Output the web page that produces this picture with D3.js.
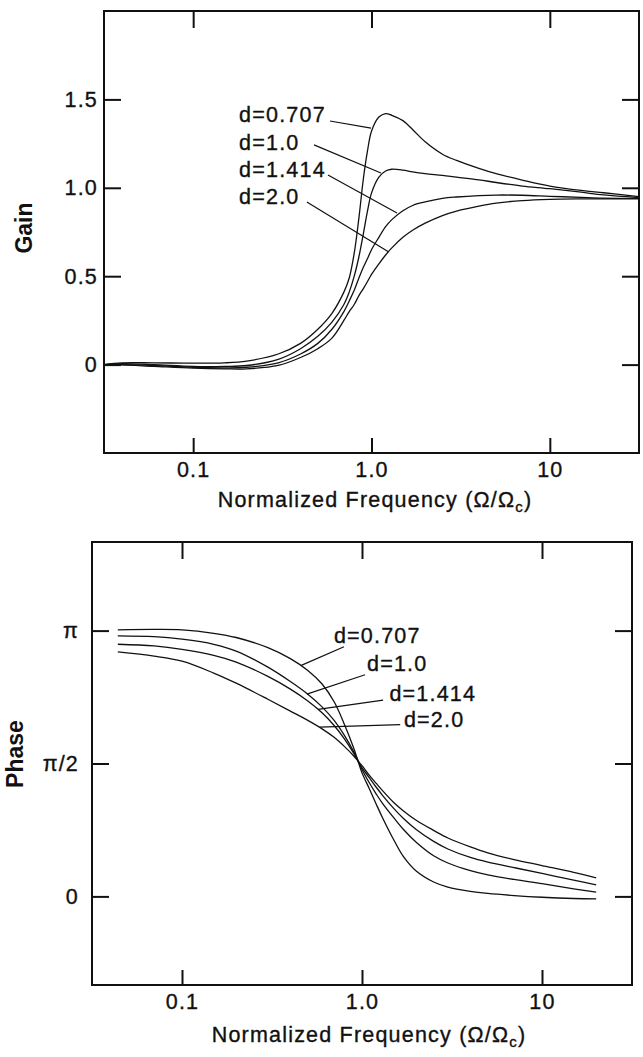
<!DOCTYPE html>
<html><head><meta charset="utf-8">
<script src="https://cdn.jsdelivr.net/npm/d3@7"></script>
<style>
body{margin:0;background:#fff}
text{font-family:"Liberation Sans",Arial,Helvetica,sans-serif;fill:#111}
</style>
</head><body>
<svg id="c" width="643" height="1057" xmlns="http://www.w3.org/2000/svg"></svg>
<script>
// ---------- data ----------
const seriesNames = ["d=0.707", "d=1.0", "d=1.414", "d=2.0"];

const xTickValues = [0.1, 1, 10];
const xTickLabels = ["0.1", "1.0", "10"];

const gainTickValues = [0, 0.5, 1.0, 1.5];
const gainTickLabels = ["0", "0.5", "1.0", "1.5"];

const phaseTickValues = [0, Math.PI / 2, Math.PI];
const phaseTickLabels = ["0", "π/2", "π"];

// Gain panel
const gainFreq = [0.0316, 0.04, 0.06, 0.1, 0.15, 0.2, 0.3, 0.4, 0.5, 0.6, 0.7, 0.75, 0.8, 0.85, 0.9, 0.95, 1.0, 1.1, 1.2, 1.3, 1.5, 1.7, 2, 2.5, 3, 4, 5, 7, 10, 15, 20, 31.6];
const gainD0707 = [0.0, 0.01, 0.01, 0.008, 0.01, 0.02, 0.06, 0.12, 0.2, 0.29, 0.41, 0.49, 0.63, 0.83, 1.05, 1.21, 1.32, 1.40, 1.42, 1.41, 1.38, 1.33, 1.26, 1.19, 1.155, 1.11, 1.08, 1.044, 1.01, 0.985, 0.972, 0.95];
const gainD1000 = [0.0, 0.005, 0.0, -0.01, -0.01, -0.005, 0.03, 0.09, 0.16, 0.24, 0.34, 0.41, 0.50, 0.61, 0.74, 0.87, 0.97, 1.06, 1.095, 1.105, 1.10, 1.09, 1.08, 1.07, 1.06, 1.045, 1.03, 1.01, 0.995, 0.975, 0.96, 0.945];
const gainD1414 = [0.0, 0.0, -0.005, -0.015, -0.018, -0.015, 0.01, 0.06, 0.12, 0.20, 0.30, 0.36, 0.42, 0.49, 0.55, 0.60, 0.65, 0.72, 0.78, 0.82, 0.87, 0.90, 0.92, 0.94, 0.948, 0.956, 0.959, 0.958, 0.952, 0.946, 0.942, 0.94];
const gainD2000 = [0.0, -0.002, -0.01, -0.02, -0.024, -0.024, -0.005, 0.04, 0.09, 0.15, 0.25, 0.30, 0.34, 0.39, 0.43, 0.47, 0.51, 0.57, 0.62, 0.66, 0.72, 0.76, 0.80, 0.843, 0.868, 0.896, 0.913, 0.928, 0.935, 0.937, 0.937, 0.937];

// Phase panel (radians)
const phaseFreq = [0.044, 0.07, 0.1, 0.15, 0.2, 0.3, 0.4, 0.5, 0.6, 0.7, 0.8, 0.9, 0.95, 1.0, 1.1, 1.2, 1.3, 1.5, 1.7, 2, 2.5, 3, 4, 5, 7, 10, 15, 20];
const phaseD0707 = [3.15, 3.155, 3.15, 3.11, 3.06, 2.94, 2.81, 2.67, 2.51, 2.30, 2.03, 1.75, 1.60, 1.46, 1.27, 1.09, 0.93, 0.67, 0.47, 0.30, 0.17, 0.11, 0.06, 0.035, 0.01, -0.01, -0.025, -0.03];
const phaseD1000 = [3.08, 3.07, 3.04, 2.98, 2.90, 2.71, 2.54, 2.39, 2.24, 2.08, 1.90, 1.71, 1.61, 1.50, 1.34, 1.21, 1.10, 0.93, 0.79, 0.64, 0.48, 0.395, 0.305, 0.255, 0.20, 0.15, 0.09, 0.05];
const phaseD1414 = [2.98, 2.96, 2.92, 2.85, 2.77, 2.60, 2.45, 2.31, 2.17, 2.02, 1.86, 1.69, 1.60, 1.52, 1.40, 1.29, 1.195, 1.04, 0.92, 0.79, 0.65, 0.56, 0.46, 0.405, 0.34, 0.272, 0.192, 0.135];
const phaseD2000 = [2.89, 2.84, 2.78, 2.64, 2.52, 2.33, 2.19, 2.08, 1.98, 1.88, 1.77, 1.66, 1.60, 1.545, 1.43, 1.335, 1.25, 1.11, 1.01, 0.90, 0.78, 0.69, 0.585, 0.515, 0.435, 0.365, 0.285, 0.22];

// Annotation labels and leader lines (data coordinates: [frequency, value])
const gainLabelAt = [[0.181, 1.372], [0.181, 1.214], [0.181, 1.061], [0.181, 0.908]];
const gainLeaderFrom = [[0.585, 1.378], [0.476, 1.243], [0.570, 1.072], [0.434, 0.920]];
const gainLeaderTo = [[0.994, 1.338], [1.13, 1.084], [1.39, 0.857], [1.25, 0.637]];

const phaseLabelAt = [[0.698, 2.997], [1.066, 2.664], [1.42, 2.31], [1.71, 2.002]];
const phaseLeaderFrom = [[0.794, 2.95], [1.04, 2.62], [1.31, 2.32], [1.63, 2.03]];
const phaseLeaderTo = [[0.46, 2.73], [0.494, 2.39], [0.57, 2.21], [0.58, 2.0]];

// ---------- drawing ----------
const svg = d3.select("#c");
const FONT = "'Liberation Sans', Arial, Helvetica, sans-serif";
const INK = "#111";

function textStyle(sel, size) {
  sel.attr("font-family", FONT).attr("font-size", size)
    .style("letter-spacing", "1.2px")
    .attr("fill", INK).attr("stroke", INK).attr("stroke-width", 0.35);
}

function panel(cfg) {
  const x = d3.scaleLog().domain([Math.pow(10, -1.5), Math.pow(10, 1.5)]).range([cfg.left, cfg.right]);
  const y = d3.scaleLinear().domain(cfg.yDomain).range([cfg.bottom, cfg.top]);
  const g = svg.append("g");

  const line = d3.line().x(d => x(d[0])).y(d => y(d[1])).curve(d3.curveCatmullRom.alpha(0.5));
  cfg.series.forEach(s => {
    g.append("path")
      .datum(d3.zip(cfg.freq, s))
      .attr("d", line)
      .attr("fill", "none")
      .attr("stroke", INK)
      .attr("stroke-width", 1.3);
  });

  // frame
  g.append("rect")
    .attr("x", cfg.left).attr("y", cfg.top)
    .attr("width", cfg.right - cfg.left).attr("height", cfg.bottom - cfg.top)
    .attr("fill", "none").attr("stroke", INK).attr("stroke-width", 2);

  const styleAxis = (sel) => {
    sel.select(".domain").remove();
    sel.selectAll(".tick line").attr("stroke", INK).attr("stroke-width", 2);
    sel.selectAll("text").call(textStyle, 21.5);
  };

  g.append("g").attr("transform", `translate(0,${cfg.bottom})`)
    .call(d3.axisBottom(x).tickValues(xTickValues).tickSize(-15).tickPadding(9)
      .tickFormat((d, i) => xTickLabels[i]))
    .call(styleAxis);
  g.append("g").attr("transform", `translate(0,${cfg.top})`)
    .call(d3.axisTop(x).tickValues(xTickValues).tickSize(-17).tickFormat(""))
    .call(styleAxis);
  g.append("g").attr("transform", `translate(${cfg.left},0)`)
    .call(d3.axisLeft(y).tickValues(cfg.yTicks).tickSize(-17).tickPadding(cfg.yPad)
      .tickFormat((d, i) => cfg.yLabels[i]))
    .call(styleAxis);
  g.append("g").attr("transform", `translate(${cfg.right},0)`)
    .call(d3.axisRight(y).tickValues(cfg.yTicks).tickSize(-17).tickFormat(""))
    .call(styleAxis);

  // annotations
  seriesNames.forEach((name, i) => {
    g.append("line")
      .attr("x1", x(cfg.leadFrom[i][0])).attr("y1", y(cfg.leadFrom[i][1]))
      .attr("x2", x(cfg.leadTo[i][0])).attr("y2", y(cfg.leadTo[i][1]))
      .attr("stroke", INK).attr("stroke-width", 1.2);
    g.append("text")
      .attr("x", x(cfg.labelAt[i][0])).attr("y", y(cfg.labelAt[i][1]))
      .call(textStyle, 21.5)
      .text(name);
  });

  // x title
  const t = g.append("text")
    .attr("x", cfg.titleX).attr("y", cfg.titleY)
    .attr("text-anchor", "middle")
    .call(textStyle, 21.5);
  t.append("tspan").text("Normalized Frequency (Ω/Ω");
  t.append("tspan").attr("font-size", 15).attr("dy", 5).text("c");
  t.append("tspan").attr("dy", -5).text(")");

  // y title
  g.append("text")
    .attr("transform", `translate(${cfg.yTitleX},${cfg.yTitleY}) rotate(-90)`)
    .attr("text-anchor", "middle").attr("font-size", 23).attr("font-weight", "bold")
    .attr("font-family", FONT).attr("fill", INK)
    .text(cfg.yTitle);
}

panel({
  left: 104, right: 639, top: 11, bottom: 453,
  yDomain: [-0.5, 2.0], yTicks: gainTickValues, yLabels: gainTickLabels, yPad: 6,
  freq: gainFreq, series: [gainD0707, gainD1000, gainD1414, gainD2000],
  labelAt: gainLabelAt, leadFrom: gainLeaderFrom, leadTo: gainLeaderTo,
  titleX: 375, titleY: 507, yTitle: "Gain", yTitleX: 32, yTitleY: 228
});

panel({
  left: 92, right: 632, top: 542, bottom: 985,
  yDomain: [-Math.PI / 3, 4 * Math.PI / 3], yTicks: phaseTickValues, yLabels: phaseTickLabels, yPad: 13,
  freq: phaseFreq, series: [phaseD0707, phaseD1000, phaseD1414, phaseD2000],
  labelAt: phaseLabelAt, leadFrom: phaseLeaderFrom, leadTo: phaseLeaderTo,
  titleX: 369, titleY: 1042, yTitle: "Phase", yTitleX: 23, yTitleY: 754
});
</script>
</body></html>
